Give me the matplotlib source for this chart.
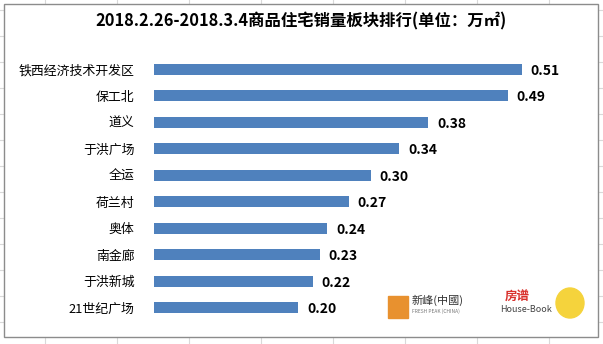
import matplotlib.pyplot as plt
from matplotlib.patches import Rectangle, Ellipse
from matplotlib.lines import Line2D

plt.rcParams['font.family'] = ['Noto Sans CJK SC', 'DejaVu Sans']

regions = ["铁西经济技术开发区", "保工北", "道义", "于洪广场", "全运",
           "荷兰村", "奥体", "南金廊", "于洪新城", "21世纪广场"]
sales = [0.51, 0.49, 0.38, 0.34, 0.30, 0.27, 0.24, 0.23, 0.22, 0.20]
title = "2018.2.26-2018.3.4商品住宅销量板块排行(单位：万㎡)"

W, H = 603, 344
fig = plt.figure(figsize=(W / 100, H / 100), dpi=100)

# spreadsheet grid behind the chart
for x in range(45, W, 72):
    fig.add_artist(Line2D([x / W, x / W], [0, 1], color="#d9d9d9", lw=0.8, zorder=-3))
for y in range(10, H, 26):
    fig.add_artist(Line2D([0, 1], [1 - y / H, 1 - y / H], color="#d9d9d9", lw=0.8, zorder=-3))
fig.add_artist(Rectangle((4 / W, 1 - 337 / H), 594 / W, 333 / H, facecolor="white",
                         edgecolor="#8c8c8c", lw=1.0, zorder=-2))

ax = fig.add_axes([154 / W, 1 - 321 / H, (590 - 154) / W, (321 - 56) / H])
ypos = list(range(len(regions)))
ax.barh(ypos, sales, height=0.4, color="#4f81bd")
ax.set_xlim(0, 0.604)
ax.set_ylim(len(regions) - 0.5, -0.5)
ax.set_yticks(ypos)
ax.set_yticklabels(regions, fontsize=9.3)
ax.tick_params(axis="y", length=0, pad=14)
ax.set_xticks([])
for s in ax.spines.values():
    s.set_visible(False)
ax.patch.set_alpha(0)
for y, v in zip(ypos, sales):
    ax.text(v + 0.012, y + 0.05, f"{v:.2f}", va="center", ha="left",
            fontsize=10, fontweight="bold")

fig.text(0.5, 1 - 21 / H, title, ha="center", va="center", fontsize=11.8,
         fontweight="bold")

# logo stand-ins
fig.add_artist(Rectangle((388 / W, 1 - 318 / H), 20 / W, 22 / H, color="#e8912f"))
fig.text(412 / W, 1 - 300 / H, "新峰(中國)", fontsize=8, color="#333333", va="center")
fig.text(412 / W, 1 - 311 / H, "FRESH PEAK (CHINA)", fontsize=3.5, color="#777777", va="center")
fig.text(505 / W, 1 - 297 / H, "房谱", fontsize=9, color="#d9302c", va="center",
         fontweight="bold")
fig.text(500 / W, 1 - 310 / H, "House-Book", fontsize=6.5, color="#444444", va="center")
fig.add_artist(Ellipse((570 / W, 1 - 303 / H), 28 / W, 30 / H, color="#f5d33c"))

fig.savefig("out.png", dpi=100)
